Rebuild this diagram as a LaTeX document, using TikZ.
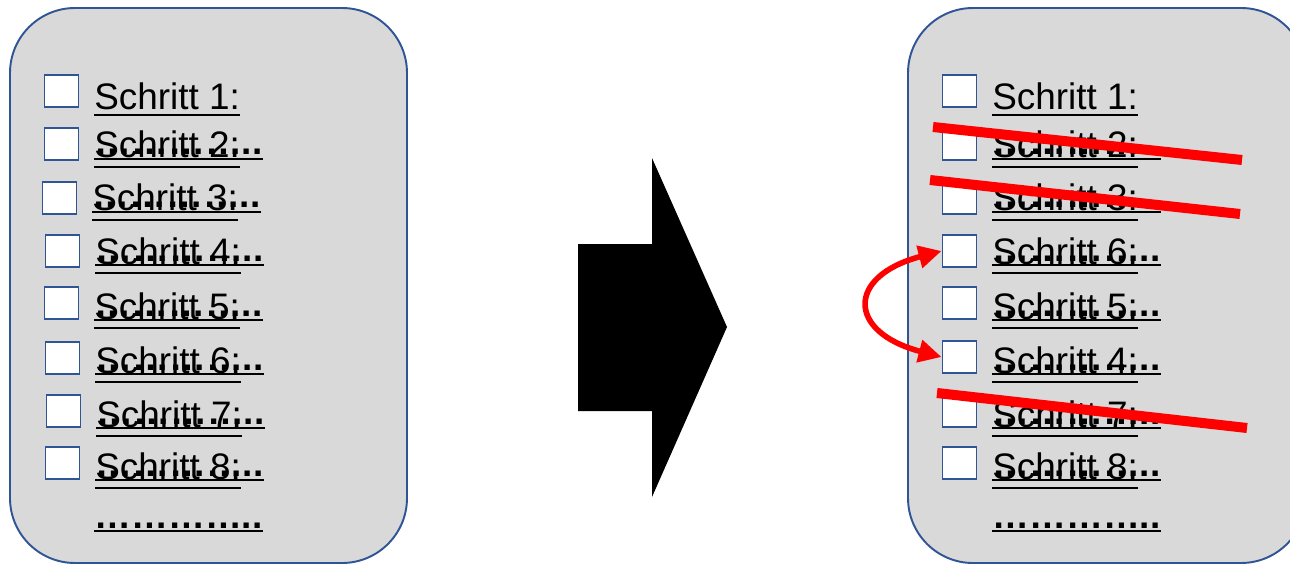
\documentclass[tikz,border=0pt]{standalone}
\usepackage{fontspec}
\setmainfont{Liberation Sans}
\usetikzlibrary{arrows.meta}
\definecolor{panelgray}{HTML}{D9D9D9}
\definecolor{panelblue}{HTML}{2F5597}
\definecolor{strikered}{HTML}{FF0000}

\begin{document}
\begin{tikzpicture}[
  x=0.02cm, y=-0.02cm,
  every node/.style={font={\fontsize{21}{25}\selectfont}},
  panel/.style={draw=panelblue, line width=1.1pt, fill=panelgray,
                rounded corners=1.3cm},
  chk/.style={draw=panelblue, line width=1.1pt, fill=white,
              minimum width=0.68cm, minimum height=0.64cm, inner sep=0pt},
  lbl/.style={anchor=base west, inner sep=0pt},
  dots/.style={lbl, font={\fontsize{21}{25}\selectfont\bfseries}},
  uline/.style={line width=1.1pt},
  cross/.style={strikered, line width=5.7pt},
  swap/.style={strikered, line width=3.2pt,
               {Triangle[length=4.6mm,width=4.4mm]}-{Triangle[length=4.6mm,width=4.4mm]}},
]
\useasboundingbox (0,0) rectangle (1290,564);

% panels
\draw[panel] (10,8) rectangle (407,563);
\draw[panel] (908,8) rectangle (1306,563);

% left list
\node[chk] (lc1) at (61.5,91) {};
\node[lbl] (lt1) at (94,110) {Schritt 1:};
\draw[uline] ([yshift=-2.8pt]lt1.base west) -- ([yshift=-2.8pt]lt1.base east);
\foreach \cx/\cy/\b/\n [count=\i from 2] in
  {61.5/144/158/2, 59.5/198/211/3, 62.5/251/264/4, 61.5/303/319/5,
   62.5/358/373/6, 63.5/411/427/7, 62.5/463/479/8} {
  \node[chk] (lc\i) at (\cx,\cy) {};
  \node[lbl] (lt\i) at (\cx+32.5,\b) {Schritt \n:};
  \draw[uline] ([yshift=-5pt]lt\i.base west) -- ([yshift=-5pt]lt\i.base east);
  \node[dots] (ld\i) at (\cx+32.5,\b-3) {…………..};
  \draw[uline] ([yshift=-2.2pt]ld\i.base west) -- ([yshift=-2.2pt]ld\i.base east);
}
\node[dots] (lt9) at (94,528) {…………..};
\draw[uline] ([yshift=-1.9pt]lt9.base west) -- ([yshift=-1.9pt]lt9.base east);

% right list
\node[chk] (rc1) at (959.5,91) {};
\node[lbl] (rt1) at (992,110) {Schritt 1:};
\draw[uline] ([yshift=-2.8pt]rt1.base west) -- ([yshift=-2.8pt]rt1.base east);
\foreach \cy/\b/\n [count=\i from 2] in
  {144/158/2, 198/211/3, 251/264/6, 303/319/5,
   357/373/4, 411/427/7, 463/479/8} {
  \node[chk] (rc\i) at (959.5,\cy) {};
  \node[lbl] (rt\i) at (992,\b) {Schritt \n:};
  \draw[uline] ([yshift=-5pt]rt\i.base west) -- ([yshift=-5pt]rt\i.base east);
  \node[dots] (rd\i) at (992,\b-3) {…………..};
  \draw[uline] ([yshift=-2.2pt]rd\i.base west) -- ([yshift=-2.2pt]rd\i.base east);
}
\node[dots] (rt9) at (992,528) {…………..};
\draw[uline] ([yshift=-1.9pt]rt9.base west) -- ([yshift=-1.9pt]rt9.base east);

% crossed out steps
\draw[cross] (933,127) -- (1242,160);
\draw[cross] (930,180) -- (1240,214);
\draw[cross] (937,393) -- (1247,428);

% swapped steps
\draw[swap] (rc4.west) .. controls +(-95,25) and +(-95,-25) .. (rc6.west);

% big arrow
\fill (578,244) -- (652,244) -- (652,158) -- (727,327) -- (652,497)
  -- (652,411) -- (578,411) -- cycle;
\end{tikzpicture}
\end{document}
